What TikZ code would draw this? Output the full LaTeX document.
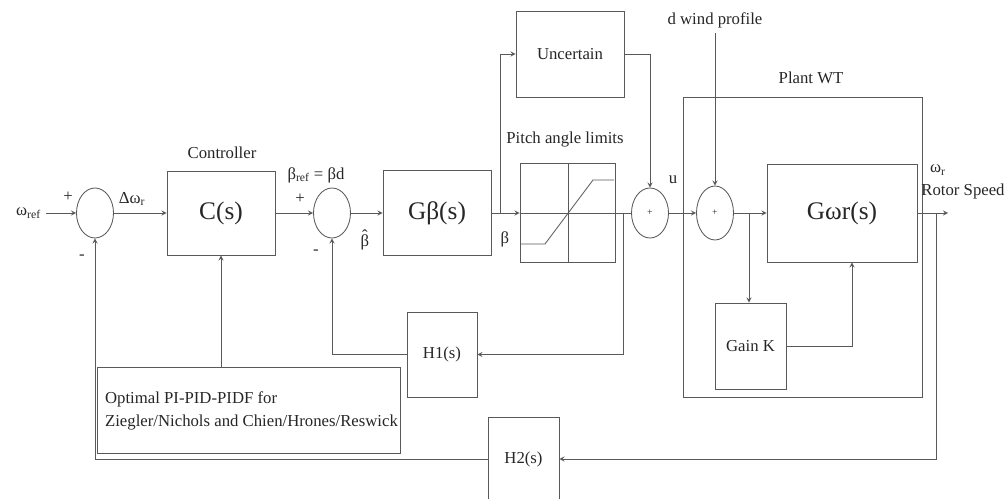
\documentclass[tikz,border=0pt]{standalone}
\usepackage{fontspec}
\setmainfont{Liberation Serif}
\usetikzlibrary{shapes.geometric}
\tikzset{
  block/.style={draw, rectangle, inner sep=0pt},
  sumnode/.style={draw, ellipse, inner sep=0pt, minimum width=37*0.025cm, minimum height=50*0.025cm},
  lbl/.style={font=\fontsize{11.9}{16.3}\selectfont},
  tf/.style={font=\fontsize{18}{20}\selectfont},
}
\begin{document}
\begin{tikzpicture}[x=0.025cm, y=-0.025cm, >=stealth, line width=0.6pt, color=black!65,
    every node/.append style={text=black!85}]
    \def\pxs{0.025cm}
    \useasboundingbox (0,0) rectangle (1008,499);
    % Summing junctions
    \node[sumnode] (sum1) at (95,213) {};
    \node[sumnode] (sum2) at (332,213) {};
    \node[sumnode, font=\scriptsize] (sum3) at (650,213) {+};
    \node[sumnode, font=\scriptsize, minimum height=54*\pxs] (sum4) at (715,213) {+};
    % Blocks
    \node[block, tf, minimum width=108*\pxs, minimum height=84*\pxs] (ctrl) at (221,213) {C(s)};
    \node[block, tf, minimum width=108*\pxs, minimum height=85*\pxs] (gbeta) at (437,213) {Gβ(s)};
    \node[block, minimum width=95*\pxs, minimum height=99*\pxs] (sat) at (567.5,213) {};
    \node[block, lbl, minimum width=108*\pxs, minimum height=86*\pxs] (unc) at (570,54) {Uncertain};
    \node[block, minimum width=239*\pxs, minimum height=300*\pxs] (plant) at (802.5,247) {};
    \node[block, tf, minimum width=150*\pxs, minimum height=98*\pxs] (gwr) at (842,213) {Gωr(s)};
    \node[block, lbl, minimum width=71*\pxs, minimum height=86*\pxs] (gain) at (750.5,346) {Gain K};
    \node[block, lbl, minimum width=70*\pxs, minimum height=85*\pxs] (hone) at (442,354.5) {H1(s)};
    \node[block, lbl, minimum width=71*\pxs, minimum height=84*\pxs] (htwo) at (523.5,459) {H2(s)};
    \node[block, minimum width=303*\pxs, minimum height=86*\pxs] (opt) at (248.5,410) {};
    \node[lbl, anchor=west, align=left] (opttext) at (100,411) {Optimal PI-PID-PIDF for\\Ziegler/Nichols and Chien/Hrones/Reswick};
    % Saturation curve
    \draw (sat.west) -- (sat.east);
    \draw (568,163.5) -- (568,262.5);
    \draw (521,244) -- (545,244) -- (593,180) -- (614,180);
    % Labels
    \node[lbl, anchor=east] (wref) at (46,213) {ω\textsubscript{ref}};
    \node[lbl] at (68,197) {+};
    \node[lbl] at (82,257) {-};
    \node[lbl] at (132,199) {Δω\textsubscript{r}};
    \node[lbl] at (222,153) {Controller};
    \node[lbl] at (316,175) {β\textsubscript{ref} = βd};
    \node[lbl] at (300,199) {+};
    \node[lbl] at (316,252) {-};
    \node[lbl] at (365,240) {\accent"02C6 β};
    \node[lbl] at (505,239) {β};
    \node[lbl] at (565,140) {Pitch angle limits};
    \node[lbl] at (673,180) {u};
    \node[lbl] (wind) at (715,20) {d wind profile};
    \node[lbl] at (811,78) {Plant WT};
    \node[lbl] at (938,170) {ω\textsubscript{r}};
    \node[lbl] at (963,191) {Rotor Speed};
    % Forward path
    \draw[->] (wref) -- (sum1);
    \draw[->] (sum1) -- (ctrl);
    \draw[->] (ctrl) -- (sum2);
    \draw[->] (sum2) -- (gbeta);
    \draw[->] (gbeta) -- (sat);
    \draw (sat) -- (sum3);
    \coordinate (bb) at (500,213);
    \draw[->] (bb) |- (unc.west);
    \draw[->] (unc.east) -| (sum3.north);
    \draw[->] (sum3) -- (sum4);
    \draw[->] (wind) -- (sum4);
    \draw[->] (sum4) -- (gwr);
    \coordinate (bk) at (749,213);
    \draw[->] (bk) -- (bk |- gain.north);
    \draw[->] (gain.east) -| ([xshift=10*\pxs]gwr.south);
    \coordinate (out) at (948,213);
    \draw[->] (gwr) -- (out);
    % Feedback
    \coordinate (fb1) at (623,213);
    \draw[->] (fb1) |- (hone.east);
    \draw[->] (hone.west) -| (sum2.south);
    \coordinate (fb2) at (936,213);
    \draw[->] (fb2) |- (htwo.east);
    \draw[->] (htwo.west) -| (sum1.south);
    \draw[->] (opt.north -| ctrl.south) -- (ctrl.south);
\end{tikzpicture}
\end{document}
